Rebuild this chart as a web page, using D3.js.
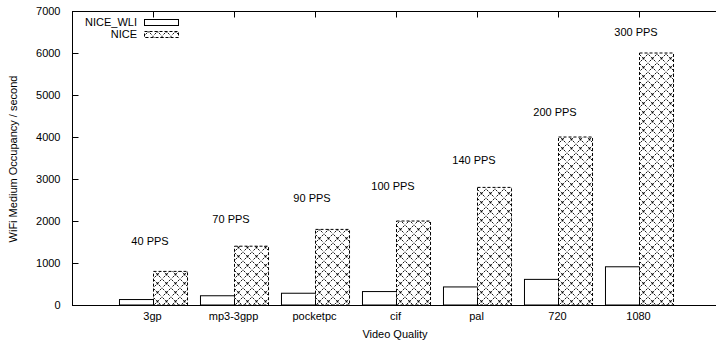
<!DOCTYPE html>
<html><head><meta charset="utf-8">
<script src="https://cdn.jsdelivr.net/npm/d3@7"></script>
<style>body{margin:0;background:#fff}svg{display:block}text{font-family:"Liberation Sans",Arial,sans-serif;font-size:11px;fill:#000}</style>
</head><body><svg id="c" width="716" height="340"></svg>
<script>
const categories = ["3gp","mp3-3gpp","pocketpc","cif","pal","720","1080"];
const niceWli = [130,220,280,320,430,610,910];
const nice = [800,1400,1800,2000,2800,4000,6000];
const ppsLabels = ["40 PPS","70 PPS","90 PPS","100 PPS","140 PPS","200 PPS","300 PPS"];
const ppsLabelValue = [1520,2040,2540,2830,3440,4600,6500];
const yTicks = [0,1000,2000,3000,4000,5000,6000,7000];
const seriesNames = ["NICE_WLI","NICE"];

const svg = d3.select("#c");
const x = d3.scaleLinear().domain([0,8]).range([72,720]);
const y = d3.scaleLinear().domain([0,7000]).range([305,11]);
const bw = x(0.42)-x(0);

const defs = svg.append("defs");
const P = 9;
const pat = defs.append("pattern").attr("id","hatch").attr("patternUnits","userSpaceOnUse")
  .attr("width",P).attr("height",P);
pat.append("rect").attr("width",P).attr("height",P).attr("fill","#fff");
pat.append("path").attr("d",`M0.5,0.5L${P-0.5},${P-0.5}M${P-0.5},0.5L0.5,${P-0.5}`).attr("stroke","#000").attr("stroke-width",0.9).attr("stroke-dasharray","2.5,1.2");
pat.append("circle").attr("cx",P/2).attr("cy",P/2).attr("r",0.9).attr("fill","#000");

const g = svg.append("g");
categories.forEach((c,i)=>{
  const cx = x(i+1);
  g.append("rect").attr("x",cx-bw+0.5).attr("y",y(niceWli[i])).attr("width",bw).attr("height",y(0)-y(niceWli[i]))
   .attr("fill","#fff").attr("stroke","#000").attr("stroke-width",1);
  g.append("rect").attr("x",cx+0.5).attr("y",y(nice[i])).attr("width",bw).attr("height",y(0)-y(nice[i]))
   .attr("fill","url(#hatch)").attr("stroke","#000").attr("stroke-width",1).attr("stroke-dasharray","3,2");
  g.append("text").attr("x",cx-3).attr("y",y(ppsLabelValue[i])).attr("text-anchor","middle").attr("dy","0.35em").text(ppsLabels[i]);
});

const ax = svg.append("g").attr("stroke","#000").attr("stroke-width",1).attr("fill","none");
ax.append("line").attr("x1",72.5).attr("x2",72.5).attr("y1",11).attr("y2",305.5);
ax.append("line").attr("x1",72).attr("x2",716).attr("y1",305.5).attr("y2",305.5);
ax.append("line").attr("x1",72).attr("x2",716).attr("y1",11.5).attr("y2",11.5);

const ya = svg.append("g").attr("transform","translate(72.5,0)")
  .call(d3.axisLeft(y).tickValues(yTicks).tickSize(-6).tickPadding(12).tickFormat(d3.format("d")));
ya.select(".domain").remove();
ya.selectAll("text").attr("font-size",11).attr("font-family","Liberation Sans, Arial, sans-serif");
const xa = svg.append("g").attr("transform","translate(0,11.5)")
  .call(d3.axisTop(x).tickValues(d3.range(1,8)).tickSize(-6).tickFormat(""));
xa.select(".domain").remove();
const xb = svg.append("g").attr("transform","translate(0,305.5)")
  .call(d3.axisBottom(x).tickValues(d3.range(1,8)).tickSize(-6).tickPadding(7).tickFormat(d=>categories[d-1]));
xb.select(".domain").remove();
xb.selectAll("text").attr("font-size",11).attr("font-family","Liberation Sans, Arial, sans-serif").attr("dx","-1");

svg.append("text").attr("x",395).attr("y",338).attr("text-anchor","middle").text("Video Quality");
svg.append("text").attr("transform","translate(17,159) rotate(-90)").attr("text-anchor","middle").text("WiFi Medium Occupancy / second");

seriesNames.forEach((n,i)=>{
  const ly = 22 + i*12;
  svg.append("text").attr("x",137).attr("y",ly).attr("dy","0.35em").attr("text-anchor","end").text(n);
  svg.append("rect").attr("x",144.5).attr("y",ly-2.5).attr("width",34).attr("height",6)
    .attr("fill",i===0?"#fff":"url(#hatch)").attr("stroke","#000").attr("stroke-width",1)
    .attr("stroke-dasharray",i===0?null:"3,2");
});
</script></body></html>
